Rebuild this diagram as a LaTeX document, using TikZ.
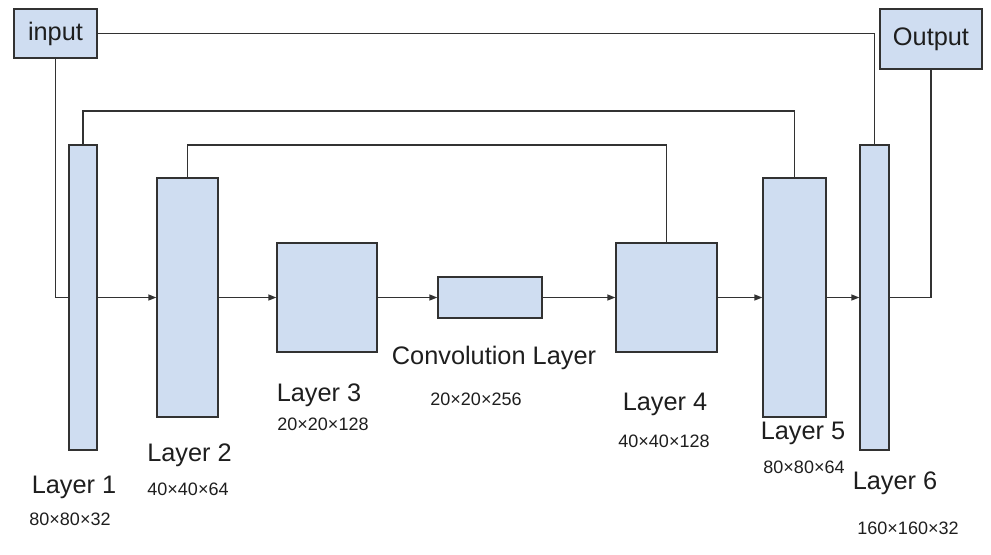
\documentclass[tikz,border=0pt]{standalone}
\usepackage{fontspec}
\setmainfont{Liberation Sans}
\usetikzlibrary{fit,arrows.meta}
\definecolor{boxfill}{RGB}{207,221,241}
\definecolor{linec}{RGB}{50,50,50}
\definecolor{textc}{RGB}{30,30,30}
\begin{document}
\begin{tikzpicture}[x=0.75pt,y=-0.75pt,
  block/.style={draw=linec,fill=boxfill,line width=1pt,inner sep=0pt,rectangle},
  conn/.style={draw=linec,line width=1pt},
  arr/.style={conn,-{Triangle[length=6pt,width=4.5pt]}},
  lab/.style={text=textc,font=\fontsize{19}{21}\selectfont,inner sep=0pt},
  dim/.style={text=textc,font=\fontsize{13.5}{15}\selectfont,inner sep=0pt}]
\useasboundingbox (0,0) rectangle (991,554);
% boxes
\node[block,fit={(14,9) (97,58)}] (in) {};
\node[lab] at (in.center) {input};
\node[block,fit={(880,9) (982,69)}] (out) {};
\node[lab] at (out.center) {Output};
\node[block,fit={(69,145) (97,450)}] (l1) {};
\node[block,fit={(157,178) (218,417)}] (l2) {};
\node[block,fit={(277,243) (377,352)}] (l3) {};
\node[block,fit={(438,277) (542,318)}] (cv) {};
\node[block,fit={(616,243) (717,352)}] (l4) {};
\node[block,fit={(763,178) (826,417)}] (l5) {};
\node[block,fit={(860,145) (889,450)}] (l6) {};
% skip connections
\draw[conn] (in.south) |- (l1.west);
\draw[conn] (in.east) -| (l6.north);
\coordinate (s1) at (83,111);
\draw[conn] (l1.north) -- (l1.north |- s1) -| (l5.north);
\coordinate (s2) at (187,145);
\draw[conn] (l2.north) -- (l2.north |- s2) -| (l4.north);
\draw[conn] (out.south) |- (l6.east);
% forward arrows
\draw[arr] (l1.east) -- (l2.west);
\draw[arr] (l2.east) -- (l3.west);
\draw[arr] (l3.east) -- (cv.west);
\draw[arr] (cv.east) -- (l4.west);
\draw[arr] (l4.east) -- (l5.west);
\draw[arr] (l5.east) -- (l6.west);
% labels
\node[lab] (t1) at (74,487) {Layer 1};
\node[dim] (d1) at (70,519) {80×80×32};
\node[lab] (t2) at (189.5,455) {Layer 2};
\node[dim] (d2) at (188,489) {40×40×64};
\node[lab] (t3) at (319,395) {Layer 3};
\node[dim] (d3) at (323,424) {20×20×128};
\node[lab] (tc) at (494,358) {Convolution Layer};
\node[dim] (dc) at (476,399) {20×20×256};
\node[lab] (t4) at (665,404) {Layer 4};
\node[dim] (d4) at (664,441) {40×40×128};
\node[lab] (t5) at (803,433) {Layer 5};
\node[dim] (d5) at (804,467) {80×80×64};
\node[lab] (t6) at (895,483) {Layer 6};
\node[dim] (d6) at (908,528) {160×160×32};
\end{tikzpicture}
\end{document}
